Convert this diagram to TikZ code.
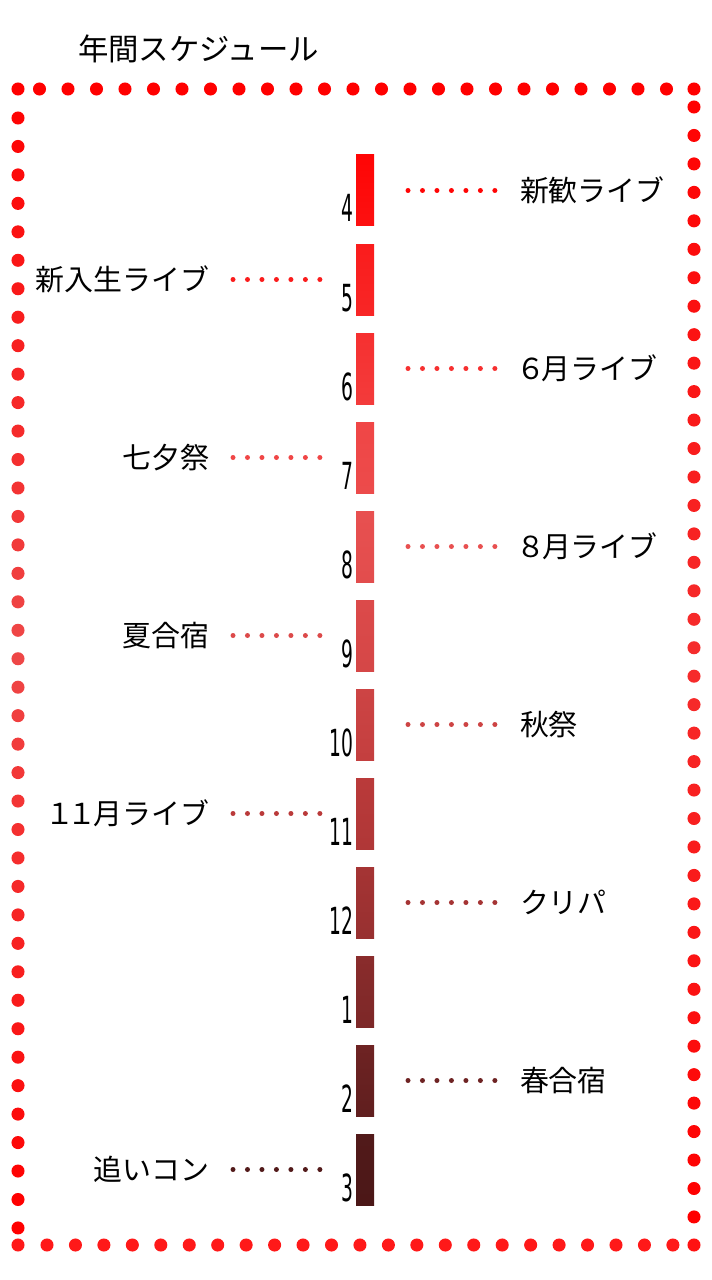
\documentclass[tikz,border=0pt]{standalone}
\usepackage{fontspec}
\setmainfont{Noto Sans CJK JP}
\newfontfamily\numfont[FakeStretch=0.5]{DejaVu Sans}
\newcommand\pw[1]{{\addfontfeatures{RawFeature=+palt}#1}}
\usetikzlibrary{calc}
\definecolor{c4}{RGB}{255,5,5}
\definecolor{c5}{RGB}{250,28,28}
\definecolor{c6}{RGB}{246,48,48}
\definecolor{c7}{RGB}{240,70,70}
\definecolor{c8}{RGB}{232,80,80}
\definecolor{c9}{RGB}{220,74,74}
\definecolor{c10}{RGB}{205,68,68}
\definecolor{c11}{RGB}{186,58,58}
\definecolor{c12}{RGB}{165,52,52}
\definecolor{c1}{RGB}{138,44,44}
\definecolor{c2}{RGB}{110,35,35}
\definecolor{c3}{RGB}{82,26,26}
\definecolor{cend}{RGB}{68,20,20}
\definecolor{lightred}{RGB}{238,72,72}
\definecolor{midred}{RGB}{245,45,45}
\tikzset{
  bar/.style={minimum width=13.5pt, minimum height=53.25pt, inner sep=0pt, outer sep=0pt},
  num/.style={font=\numfont\fontsize{28pt}{30pt}\selectfont, inner sep=0pt, outer sep=0pt},
  lab/.style={font=\fontsize{21.7pt}{26pt}\selectfont, inner sep=0pt, outer sep=0pt, text=black},
  conn/.style={draw=#1, line width=3.75pt, line cap=round, dash pattern=on 0pt off 10.86pt}
}
\begin{document}
\begin{tikzpicture}[x=0.75pt,y=-0.75pt]
\useasboundingbox (0,0) rectangle (712,1280);
% title
\node[lab, font=\fontsize{22.8pt}{26pt}\selectfont, anchor=west] (title) at (78,49) {年間スケジュール};
% border dots
\fill[red] (18,89) circle[radius=4.9pt];
\foreach \k in {0,...,22} \fill[red] ({39.5+28.5*\k},89) circle[radius=4.9pt];
\fill[red] (694,89) circle[radius=4.9pt];
\foreach \k in {0,...,39} {
  \pgfmathsetmacro\yy{118+28.46*\k}
  \pgfmathtruncatemacro\tt{max(0,100*(1-abs(\yy-650)/560))}
  \fill[lightred!\tt!red] (18,\yy) circle[radius=4.9pt];
}
\foreach \k in {0,...,39} {
  \pgfmathsetmacro\yy{107+28.46*\k}
  \pgfmathtruncatemacro\tt{max(0,100*(1-abs(\yy-650)/560))}
  \fill[midred!\tt!red] (694,\yy) circle[radius=4.9pt];
}
\fill[red!90!white] (18,1245) circle[radius=4.9pt];
\foreach \k in {0,...,22} \fill[red!90!white] ({47+28.45*\k},1245) circle[radius=4.9pt];
\fill[red!93!white] (694,1245) circle[radius=4.9pt];
% bars and month numbers
\foreach \m/\c/\d [count=\i from 0] in {4/c4/c5,5/c5/c6,6/c6/c7,7/c7/c8,8/c8/c9,9/c9/c10,10/c10/c11,11/c11/c12,12/c12/c1,1/c1/c2,2/c2/c3,3/c3/cend} {
  \node[bar, top color=\c, bottom color=\d!50!\c] (b\m) at (365,{190.5+89*\i}) {};
  \node[num, anchor=base east] (n\m) at ($(b\m.south west)+(-3,-4)$) {\m};
}
% right labels
\foreach \m/\t in {4/新歓ライブ,6/\pw{６}月ライブ,8/\pw{８}月ライブ,10/秋祭,12/クリパ,2/春合宿} {
  \node[lab, anchor=west] (l\m) at ($(b\m.east)+(146,0)$) {\t};
  \draw[conn=c\m] ($(b\m.east)+(34,0)$) -- ($(l\m.west |- b\m.east)+(-25,0)$);
}
% left labels
\foreach \m/\t in {5/新入生ライブ,7/七夕祭,9/夏合宿,11/\pw{１１}月ライブ,3/追いコン} {
  \node[lab, anchor=east] (l\m) at ($(b\m.west)+(-147,0)$) {\t};
  \draw[conn=c\m] ($(l\m.east |- b\m.west)+(24,0)$) -- ($(b\m.west)+(-36,0)$);
}
\end{tikzpicture}
\end{document}
